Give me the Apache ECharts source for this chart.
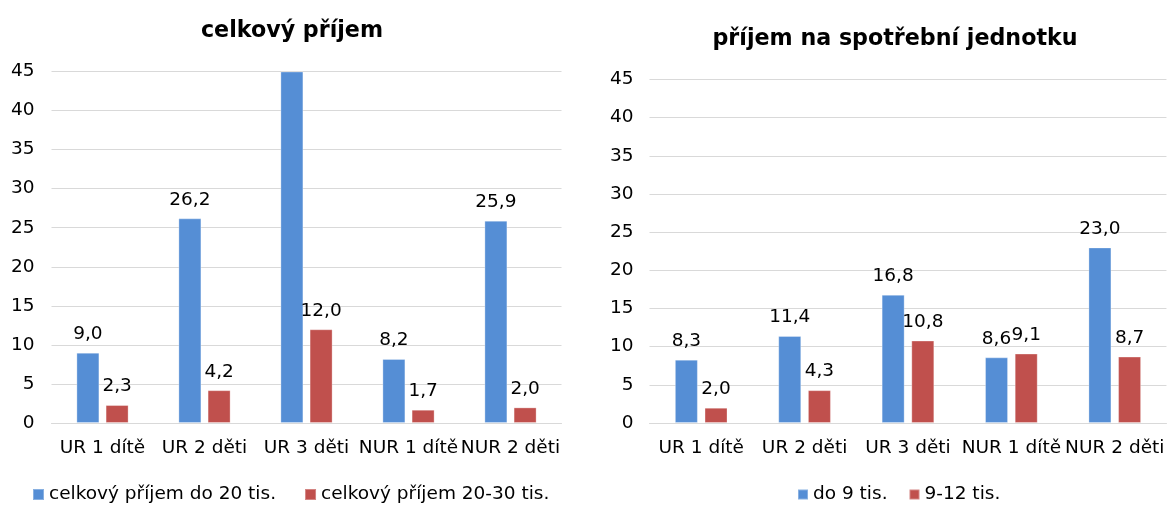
<!DOCTYPE html>
<html>
<head>
<meta charset="utf-8">
<style>
  html, body { margin: 0; padding: 0; background: #fff; overflow: hidden; }
  #chart { width: 1167px; height: 505px; }
</style>
<script src="https://cdn.jsdelivr.net/npm/echarts@6/dist/echarts.min.js"></script>
</head>
<body>
<div id="chart"></div>
<script>
// Household groups on the category axis (shared by both panels)
const categories = ['UR 1 dítě', 'UR 2 děti', 'UR 3 děti', 'NUR 1 dítě', 'NUR 2 děti'];

// Panel 1: total income
const totalTitle = 'celkový příjem';
const totalLowName = 'celkový příjem do 20 tis.';
const totalLow = [9.0, 26.2, 45.0, 8.2, 25.9];
const totalMidName = 'celkový příjem 20-30 tis.';
const totalMid = [2.3, 4.2, 12.0, 1.7, 2.0];

// Panel 2: income per consumption unit
const unitTitle = 'příjem na spotřební jednotku';
const unitLowName = 'do 9 tis.';
const unitLow = [8.3, 11.4, 16.8, 8.6, 23.0];
const unitMidName = '9-12 tis.';
const unitMid = [2.0, 4.3, 10.8, 9.1, 8.7];

// Value axis range shared by both panels
const yMin = 0, yMax = 45, yStep = 5;

const FONT = '"DejaVu Sans", Verdana, sans-serif';
const TXT = 18.5;
const BLUE = '#558ED5';
const RED = '#C0504D';

const fmt = v => v.toFixed(1).replace('.', ',');

// Bars reaching the top of the axis have their label cut off by the frame
const withLabels = arr => arr.map(v => v >= yMax
  ? { value: v, label: { show: false } }
  : v);

function barSeries(name, data, color, axisIndex, gap) {
  return {
    name, type: 'bar',
    xAxisIndex: axisIndex, yAxisIndex: axisIndex,
    data: withLabels(data),
    barWidth: 23,
    barGap: gap,
    itemStyle: { color, borderColor: 'rgba(255,255,255,0.3)', borderWidth: 1 },
    label: {
      show: true, position: 'top', distance: 9,
      fontFamily: FONT, fontSize: TXT, color: '#000',
      formatter: p => fmt(p.value)
    }
  };
}

function xAxis(gridIndex) {
  return {
    type: 'category', gridIndex, data: categories,
    axisLine: { lineStyle: { color: '#d9d9d9', width: 1 } },
    axisTick: { show: false },
    axisLabel: { fontFamily: FONT, fontSize: TXT, color: '#000', margin: 16, interval: 0 }
  };
}

function yAxis(gridIndex, margin) {
  return {
    type: 'value', gridIndex, min: yMin, max: yMax, interval: yStep,
    axisLine: { show: false }, axisTick: { show: false },
    splitLine: { lineStyle: { color: '#d9d9d9', width: 1 } },
    axisLabel: { fontFamily: FONT, fontSize: TXT, color: '#000', margin }
  };
}

const legendText = { fontFamily: FONT, fontSize: TXT, color: '#000' };

const option = {
  animation: false,
  backgroundColor: '#fff',
  title: [
    { text: totalTitle, left: 287, top: 15, textAlign: 'center',
      textStyle: { fontFamily: FONT, fontWeight: 'bold', fontSize: 22.2, color: '#000' } },
    { text: unitTitle, left: 890, top: 23, textAlign: 'center',
      textStyle: { fontFamily: FONT, fontWeight: 'bold', fontSize: 22.2, color: '#000' } }
  ],
  legend: [
    { data: [totalLowName, totalMidName], left: 32, top: 485, padding: 0, itemGap: 28,
      icon: 'rect', itemWidth: 11, itemHeight: 11, textStyle: legendText },
    { data: [unitLowName, unitMidName], left: 797, top: 485, padding: 0, itemGap: 21,
      icon: 'rect', itemWidth: 10, itemHeight: 10, textStyle: legendText }
  ],
  grid: [
    { left: 51.5, top: 71.5, width: 510, height: 351.5 },
    { left: 649.5, top: 79.5, width: 521, height: 343.5 }
  ],
  xAxis: [xAxis(0), xAxis(1)],
  yAxis: [yAxis(0, 17), yAxis(1, 16)],
  series: [
    barSeries(totalLowName, totalLow, BLUE, 0, '27%'),
    barSeries(totalMidName, totalMid, RED, 0, '27%'),
    barSeries(unitLowName, unitLow, BLUE, 1, '29%'),
    barSeries(unitMidName, unitMid, RED, 1, '29%')
  ]
};

echarts.init(document.getElementById('chart'), null, { renderer: 'canvas' }).setOption(option);
</script>
</body>
</html>
